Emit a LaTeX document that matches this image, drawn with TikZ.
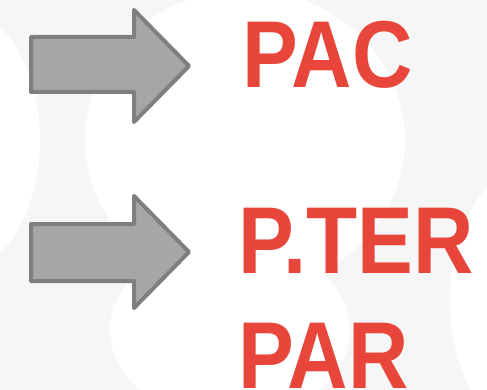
\documentclass[tikz,border=0pt]{standalone}
\usepackage{fontspec}
\setsansfont{Liberation Sans}
\definecolor{arrowfill}{HTML}{A6A6A6}
\definecolor{arrowline}{HTML}{7F7F7F}
\definecolor{labelred}{HTML}{E8463A}
\definecolor{backgray}{HTML}{F7F6F6}
\tikzset{
  bigarrow/.style={fill=arrowfill, draw=arrowline, line width=4pt, line join=round},
  biglabel/.style={labelred, anchor=base west, inner sep=0pt, xscale=0.88,
    font=\sffamily\bfseries\fontsize{95}{95}\selectfont}
}
\begin{document}
\begin{tikzpicture}[x=1pt,y=-1pt]
\useasboundingbox (0,0) rectangle (487,390);
\clip (0,0) rectangle (487,390);
% background
\fill[backgray] (0,0) rectangle (487,390);
\fill[white] (245,140) ellipse (160 and 150);
\fill[white] (230,330) ellipse (120 and 90);
\fill[white] (-40,140) ellipse (80 and 130);
\fill[white] (540,300) ellipse (90 and 140);
% first arrow
\coordinate (T1) at (189,66);
\draw[bigarrow] (31,37) -- (134,37) -- (134,10) -- (T1) -- (134,122) -- (134,92) -- (31,92) -- cycle;
% second arrow
\coordinate (T2) at (189,252);
\draw[bigarrow] (31,224) -- (134,224) -- (134,196) -- (T2) -- (134,308) -- (134,281) -- (31,281) -- cycle;
% labels
\node[biglabel] (pac) at (242,88) {PAC};
\node[biglabel] (pter) at (238,273) {P.TER};
\node[biglabel] (par) at (238,388) {PAR};
\end{tikzpicture}
\end{document}
